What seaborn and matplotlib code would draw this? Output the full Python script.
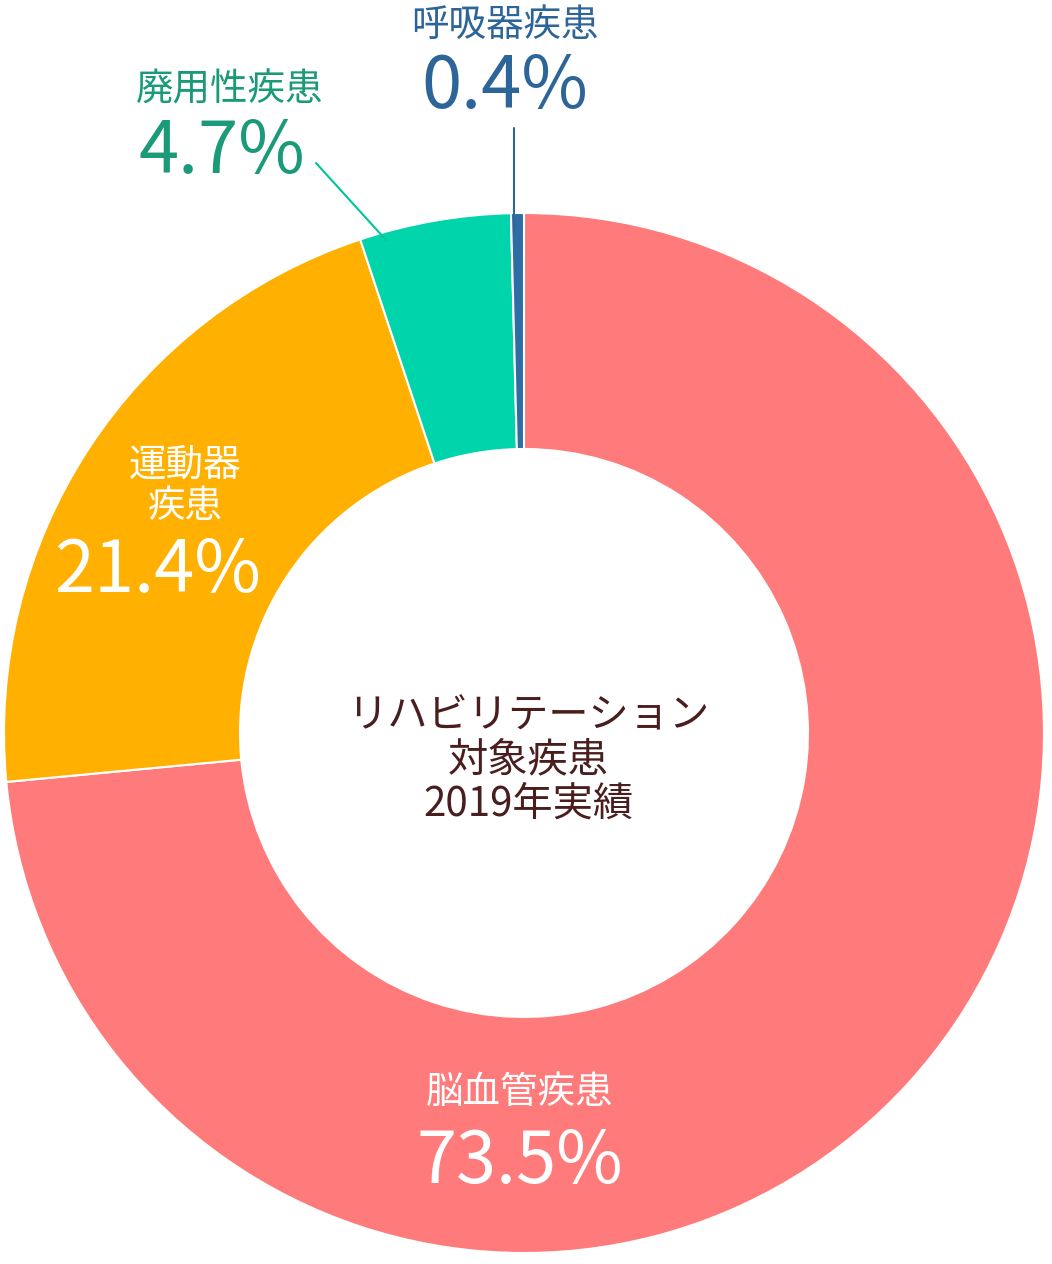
import matplotlib
matplotlib.use("Agg")
import matplotlib.pyplot as plt
import seaborn as sns

sns.set_theme(style="white", font="Noto Sans CJK JP")

categories = ["脳血管疾患", "運動器疾患", "廃用性疾患", "呼吸器疾患"]
shares = [73.5, 21.4, 4.7, 0.4]
share_labels = ["73.5%", "21.4%", "4.7%", "0.4%"]
colors = ["#FF7B7B", "#FFB000", "#00D4AA", "#2E6DA4"]

W, H = 1052, 1264
fig = plt.figure(figsize=(W / 100, H / 100), dpi=100)
cx, cy, R = 524, 733, 520
ax = fig.add_axes([(cx - R) / W, (H - cy - R) / H, 2 * R / W, 2 * R / H])

ax.pie(shares, colors=colors, startangle=90, counterclock=False, radius=1,
       wedgeprops=dict(width=1 - 284 / R, edgecolor="white", linewidth=1.5))
ax.set_xlim(-1, 1)
ax.set_ylim(-1, 1)
ax.set_aspect("equal")
ax.axis("off")


def px(x, y):
    return (x - cx) / R, (cy - y) / R


def put(x, y, s, color, size):
    ax.text(*px(x, y), s, color=color, fontsize=size, ha="center", va="center",
            linespacing=1.1, clip_on=False)


put(528, 760, "リハビリテーション\n対象疾患\n2019年実績", "#4A1E1E", 29)

put(520, 1092, categories[0], "white", 27)
put(520, 1163, share_labels[0], "white", 52)

put(185, 486, "運動器\n疾患", "white", 27)
put(158, 572, share_labels[1], "white", 52)

put(230, 90, categories[2], "#1A9A78", 27)
put(222, 153, share_labels[2], "#1A9A78", 52)

put(505, 25, categories[3], "#2E6598", 27)
put(505, 88, share_labels[3], "#2E6598", 52)

ax.plot(*zip(px(316, 163), px(386, 240)), color="#00C49C", lw=1.5, clip_on=False)
ax.plot(*zip(px(514, 128), px(514, 232)), color="#2E6598", lw=1.5, clip_on=False)

fig.savefig("out.png", dpi=100)
